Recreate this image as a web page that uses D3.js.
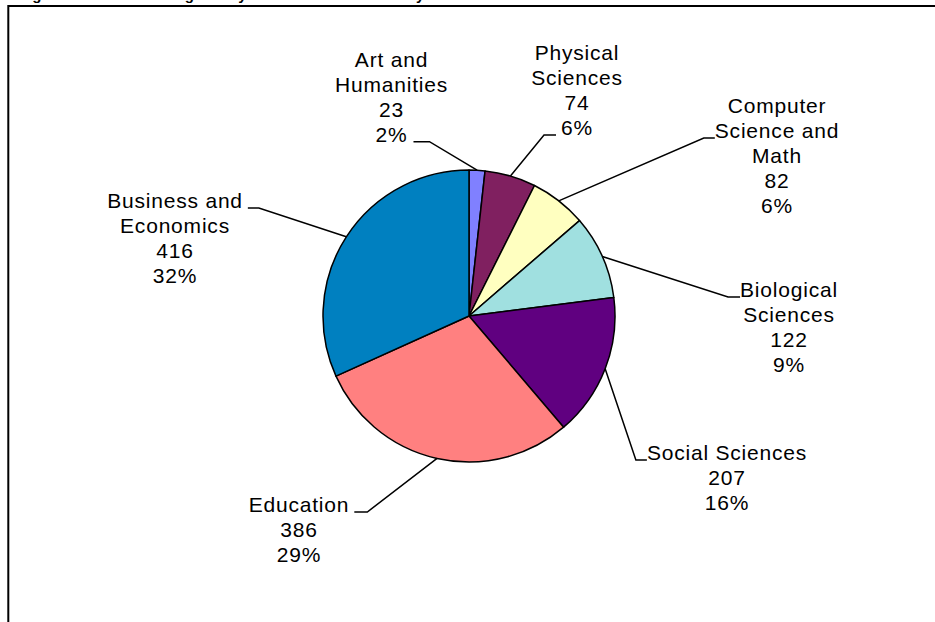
<!DOCTYPE html>
<html>
<head>
<meta charset="utf-8">
<script src="https://cdn.jsdelivr.net/npm/d3@7"></script>
<style>
  html, body { margin: 0; padding: 0; background: #fff; overflow: hidden; }
  svg { display: block; }
  .lbl { font-family: "Liberation Sans", Arial, sans-serif; font-size: 21px; letter-spacing: 0.8px; fill: #000; }
  .title { font-family: "Liberation Sans", Arial, sans-serif; font-size: 15px; font-weight: bold; fill: #000; }
</style>
</head>
<body>
<script>
// Degree counts by academic field, clockwise from 12 o'clock
const categories = [
  "Art and Humanities",
  "Physical Sciences",
  "Computer Science and Math",
  "Biological Sciences",
  "Social Sciences",
  "Education",
  "Business and Economics"
];
// how each category name is broken over lines in its label
const nameLines = [
  ["Art and", "Humanities"],
  ["Physical", "Sciences"],
  ["Computer", "Science and", "Math"],
  ["Biological", "Sciences"],
  ["Social Sciences"],
  ["Education"],
  ["Business and", "Economics"]
];
const degrees = [23, 74, 82, 122, 207, 386, 416];
const sliceColors = ["#8080FF", "#802060", "#FFFFC0", "#A0E0E0", "#600080", "#FF8080", "#0080C0"];

const titleText = "Figure 1: Number of Degrees by Academic Field of Study";

// label placement: centre x, first baseline, line the leader joins, side, gap and tail length
const labelLayout = [
  { x: 391.5, y: 66.7, line: 3, side: "right", gap: 6, len: 16 },
  { x: 577,   y: 60,   line: 3, side: "left",  gap: 5, len: 12 },
  { x: 777,   y: 113,  line: 1, side: "left",  gap: 0, len: 11 },
  { x: 789,   y: 297,  line: 0, side: "left",  gap: 0, len: 12 },
  { x: 727,   y: 460,  line: 0, side: "left",  gap: 0, len: 11 },
  { x: 299,   y: 512,  line: 0, side: "right", gap: 5, len: 13 },
  { x: 175,   y: 208,  line: 0, side: "right", gap: 5, len: 11 }
];

const W = 935, H = 622;
const cx = 469, cy = 316, R = 146;
const lineGap = 25;

const svg = d3.select("body").append("svg")
  .attr("width", W).attr("height", H);

// title sits mostly above the visible area
svg.append("text").attr("class", "title")
  .attr("x", 19).attr("y", -0.5)
  .text(titleText);

// chart frame
svg.append("rect")
  .attr("x", 8.3).attr("y", 6)
  .attr("width", W + 20).attr("height", H + 20)
  .attr("fill", "none").attr("stroke", "#000").attr("stroke-width", 2);

const total = d3.sum(degrees);
const pct = d3.format(".0%");

const rows = categories.map((c, i) => ({
  name: c, lines: nameLines[i], value: degrees[i], color: sliceColors[i], layout: labelLayout[i]
}));

const pie = d3.pie().sort(null).value(d => d.value).startAngle(0).endAngle(2 * Math.PI);
const arcs = pie(rows);

const arc = d3.arc().innerRadius(0).outerRadius(R);
const edge = d3.arc().innerRadius(R).outerRadius(R);

const g = svg.append("g").attr("transform", `translate(${cx},${cy})`);

g.selectAll("path.slice")
  .data(arcs)
  .join("path")
  .attr("class", "slice")
  .attr("d", arc)
  .attr("fill", d => d.data.color)
  .attr("stroke", "#000")
  .attr("stroke-width", 1.5)
  .attr("stroke-linejoin", "round");

// data labels with leader lines
const labels = svg.append("g");
arcs.forEach(a => {
  const d = a.data, L = d.layout;
  const textLines = d.lines.concat([String(d.value), pct(d.value / total)]);
  const t = labels.append("text").attr("class", "lbl").attr("text-anchor", "middle");
  const spans = textLines.map((s, k) =>
    t.append("tspan").attr("x", L.x).attr("y", L.y + k * lineGap).text(s)
  );
  const w = spans[L.line].node().getComputedTextLength();
  const ly = L.y + L.line * lineGap;
  let tail, elbow;
  if (L.side === "left") {
    tail = L.x - w / 2 - L.gap;
    elbow = tail - L.len;
  } else {
    tail = L.x + w / 2 + L.gap;
    elbow = tail + L.len;
  }
  const [ex, ey] = edge.centroid(a);
  labels.append("path")
    .attr("d", d3.line()([[tail, ly], [elbow, ly], [cx + ex, cy + ey]]))
    .attr("fill", "none")
    .attr("stroke", "#000")
    .attr("stroke-width", 1.5);
});
</script>
</body>
</html>
